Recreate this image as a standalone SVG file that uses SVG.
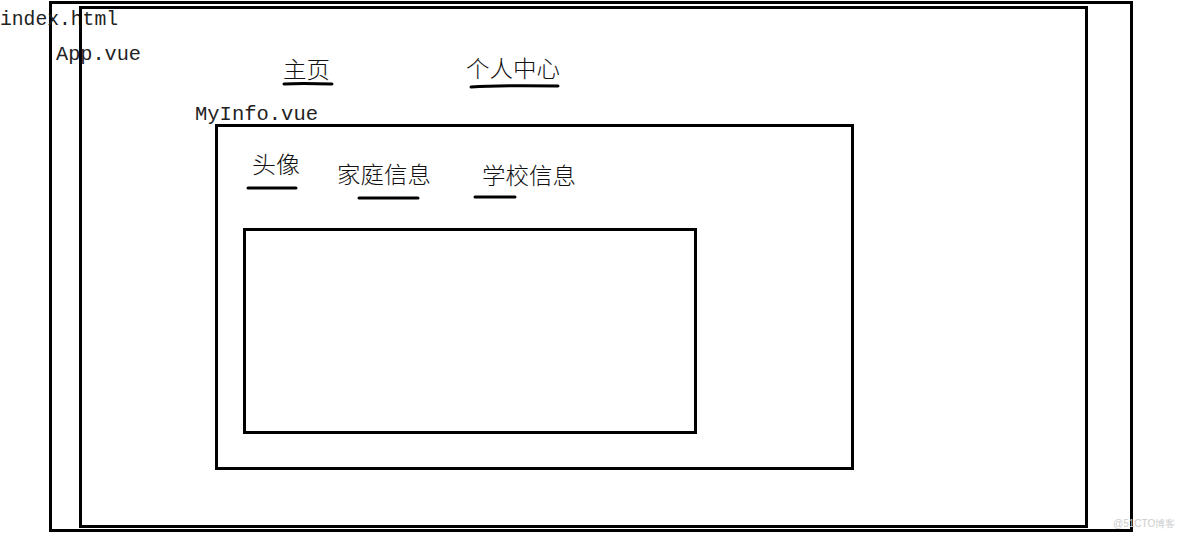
<svg xmlns="http://www.w3.org/2000/svg" width="1184" height="536" viewBox="0 0 1184 536">
<style>
.box{fill:none;stroke:#000;stroke-width:3}
.lat{font-family:"Liberation Mono","DejaVu Sans Mono",monospace;font-size:21px;fill:#222}
.cjk{font-family:"Noto Sans CJK SC","Noto Sans",sans-serif;font-size:23px;font-weight:300;fill:#111}
.ul{stroke:#000;stroke-width:3;stroke-linecap:round;fill:none}
</style>
<rect width="1184" height="536" fill="#fff"/>
<g id="index">
<rect class="box" x="50.5" y="2.5" width="1081" height="528"/>
<text class="lat" x="0" y="25" textLength="118" lengthAdjust="spacingAndGlyphs">index.html</text>
</g>
<g id="app">
<rect class="box" x="80.5" y="7.5" width="1006" height="519"/>
<text class="lat" x="56" y="60" textLength="85" lengthAdjust="spacingAndGlyphs">App.vue</text>
<text class="cjk" x="283" y="78" textLength="47" lengthAdjust="spacingAndGlyphs">主页</text>
<text class="cjk" x="466" y="77" textLength="94" lengthAdjust="spacingAndGlyphs">个人中心</text>
</g>
<g id="myinfo">
<rect class="box" x="216.5" y="125.5" width="636" height="343"/>
<text class="lat" x="195" y="120" textLength="123" lengthAdjust="spacingAndGlyphs">MyInfo.vue</text>
<text class="cjk" x="252" y="173" textLength="48" lengthAdjust="spacingAndGlyphs">头像</text>
<text class="cjk" x="337" y="183" textLength="94" lengthAdjust="spacingAndGlyphs">家庭信息</text>
<text class="cjk" x="482" y="184" textLength="94" lengthAdjust="spacingAndGlyphs">学校信息</text>
</g>
<g id="content">
<rect class="box" x="244.5" y="229.5" width="451" height="203"/>
</g>
<g id="connectors">
<path class="ul" d="M284 84 Q300 83 332 84"/>
<path class="ul" d="M471 87 Q500 85 558 86"/>
<path class="ul" d="M248 188 L296 188"/>
<path class="ul" d="M359 198 L418 198"/>
<path class="ul" d="M475 197 L515 197"/>
</g>
<text x="1113" y="527" font-family="Liberation Sans,sans-serif" font-size="10" fill="#ccc">@51CTO博客</text>
</svg>
